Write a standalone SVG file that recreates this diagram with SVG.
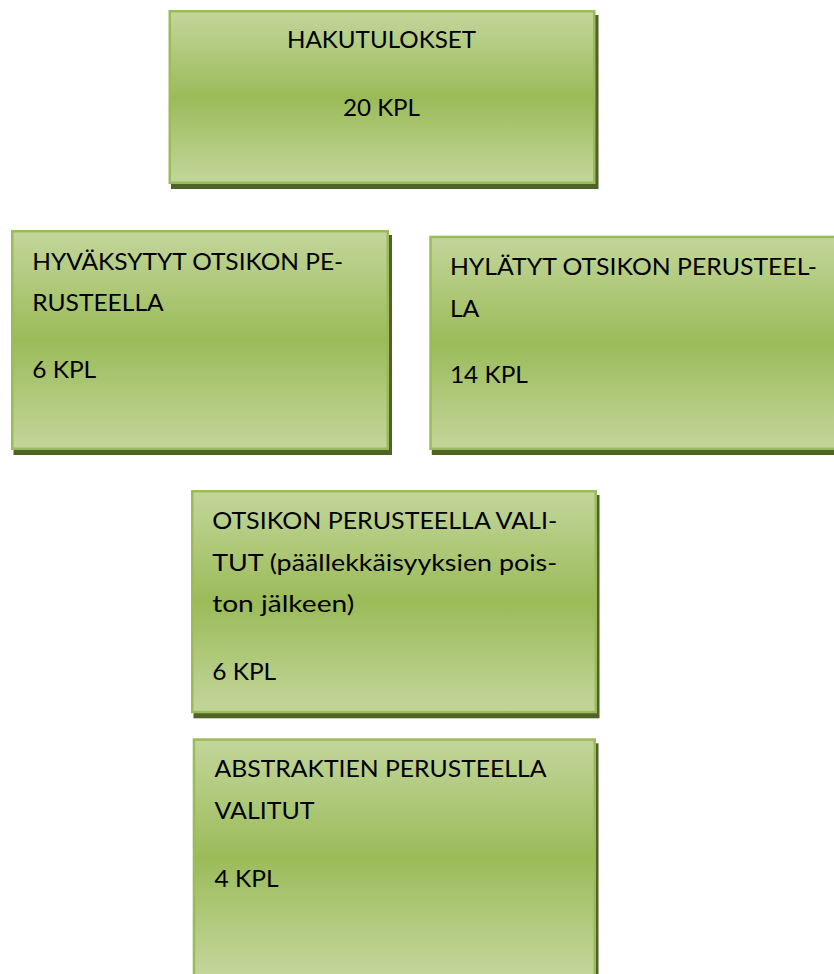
<svg xmlns="http://www.w3.org/2000/svg" width="834" height="974" viewBox="0 0 834 974">
  <defs>
    <linearGradient id="boxGrad" x1="0" y1="0" x2="0" y2="1">
      <stop offset="0" stop-color="#c3d69b"/>
      <stop offset="0.5" stop-color="#9bbb59"/>
      <stop offset="1" stop-color="#c3d69b"/>
    </linearGradient>
    <style>
      .box { fill: url(#boxGrad); stroke: #9bbb59; stroke-width: 2.5; }
      .shadow { fill: #4f6228; }
      .lbl { font-family: Lato, "Open Sans", "Liberation Sans", sans-serif; font-size: 23.4px; fill: #000000; }
      .ctr { text-anchor: middle; }
    </style>
  </defs>
  <rect width="834" height="974" fill="#ffffff"/>
  <g id="connectors"></g>

  <g id="node-hakutulokset">
    <rect class="shadow" x="171" y="15" width="427.5" height="174"/>
    <rect class="box" x="169.75" y="11.25" width="424.5" height="171.5"/>
    <text class="lbl ctr" x="381.5" y="48.3" textLength="189" lengthAdjust="spacingAndGlyphs">HAKUTULOKSET</text>
    <text class="lbl ctr" x="381.5" y="116" textLength="77" lengthAdjust="spacingAndGlyphs">20 KPL</text>
  </g>

  <g id="node-hyvaksytyt">
    <rect class="shadow" x="13.5" y="235" width="378.5" height="220"/>
    <rect class="box" x="12.25" y="231.25" width="375.5" height="217.5"/>
    <text class="lbl" x="32.2" y="269.5" textLength="311" lengthAdjust="spacingAndGlyphs">HYVÄKSYTYT OTSIKON PE-</text>
    <text class="lbl" x="32.2" y="311" textLength="131.5" lengthAdjust="spacingAndGlyphs">RUSTEELLA</text>
    <text class="lbl" x="32.2" y="378" textLength="64" lengthAdjust="spacingAndGlyphs">6 KPL</text>
  </g>

  <g id="node-hylatyt">
    <rect class="shadow" x="431.8" y="240.7" width="420" height="214.3"/>
    <rect class="box" x="430.55" y="236.95" width="420" height="211.8"/>
    <text class="lbl" x="449.9" y="275" textLength="367" lengthAdjust="spacingAndGlyphs">HYLÄTYT OTSIKON PERUSTEEL-</text>
    <text class="lbl" x="449.9" y="316.5" textLength="29.5" lengthAdjust="spacingAndGlyphs">LA</text>
    <text class="lbl" x="449.9" y="383" textLength="78" lengthAdjust="spacingAndGlyphs">14 KPL</text>
  </g>

  <g id="node-otsikon-valitut">
    <rect class="shadow" x="193.5" y="495" width="406" height="223.3"/>
    <rect class="box" x="192.25" y="491.25" width="403.5" height="220.8"/>
    <text class="lbl" x="212.2" y="529.3" textLength="345" lengthAdjust="spacingAndGlyphs">OTSIKON PERUSTEELLA VALI-</text>
    <text class="lbl" x="212.2" y="570.8" textLength="345" lengthAdjust="spacingAndGlyphs">TUT (päällekkäisyyksien pois-</text>
    <text class="lbl" x="212.2" y="612.3" textLength="142" lengthAdjust="spacingAndGlyphs">ton jälkeen)</text>
    <text class="lbl" x="212.2" y="680" textLength="64" lengthAdjust="spacingAndGlyphs">6 KPL</text>
  </g>

  <g id="node-abstraktien-valitut">
    <rect class="shadow" x="195.2" y="743.3" width="403.3" height="240"/>
    <rect class="box" x="193.95" y="739.55" width="400.8" height="236"/>
    <text class="lbl" x="214.5" y="777.3" textLength="332" lengthAdjust="spacingAndGlyphs">ABSTRAKTIEN PERUSTEELLA</text>
    <text class="lbl" x="214.5" y="818.5" textLength="100" lengthAdjust="spacingAndGlyphs">VALITUT</text>
    <text class="lbl" x="214.5" y="886.5" textLength="64" lengthAdjust="spacingAndGlyphs">4 KPL</text>
  </g>
</svg>
